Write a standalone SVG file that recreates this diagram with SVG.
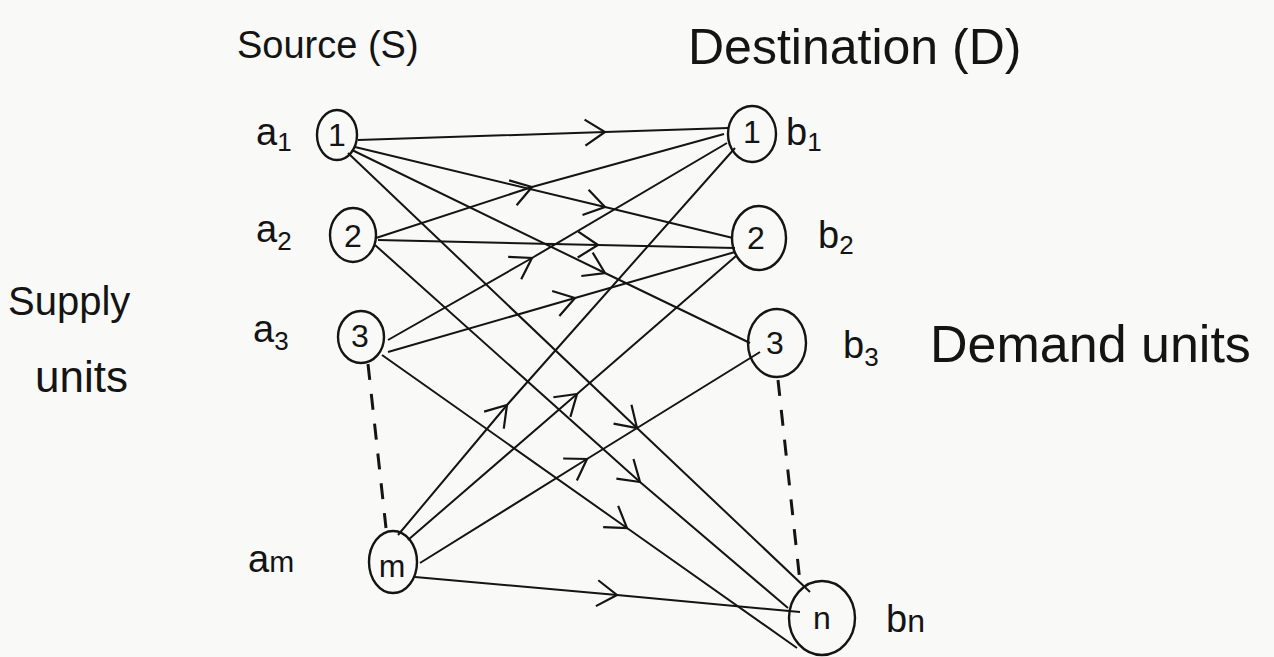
<svg xmlns="http://www.w3.org/2000/svg" width="1274" height="657" viewBox="0 0 1274 657">
<style>
.bg{fill:#f9f9f8}
.node{fill:none;stroke:#141414;stroke-width:2.4}
.nl{font-family:"Liberation Sans",Arial,sans-serif;font-size:32px;fill:#141414;text-anchor:middle;dominant-baseline:central}
.lbl{font-family:"Liberation Sans",Arial,sans-serif;fill:#141414}
.edge{fill:none;stroke:#141414;stroke-width:2;marker-mid:url(#chev)}
.dash{fill:none;stroke:#141414;stroke-width:3;stroke-dasharray:16 14}
</style>
<defs>
<marker id="chev" markerUnits="userSpaceOnUse" markerWidth="40" markerHeight="40" refX="0" refY="0" viewBox="-24 -20 30 40" orient="auto" overflow="visible">
<path d="M-20,-13 L0,0 L-20,13" fill="none" stroke="#141414" stroke-width="2.2"/>
</marker>
</defs>
<rect class="bg" x="0" y="0" width="1274" height="657"/>

<g id="titles">
<text class="lbl" x="237" y="58" font-size="38">Source (S)</text>
<text class="lbl" x="688" y="64" font-size="50">Destination (D)</text>
<text class="lbl" x="8" y="315" font-size="40">Supply</text>
<text class="lbl" x="35" y="392" font-size="44">units</text>
<text class="lbl" x="930" y="362" font-size="52">Demand units</text>
</g>

<g id="connectors">
<polyline class="edge" points="358,140 605,132 728,128"/>
<polyline class="edge" points="355,147 605,207 733,238"/>
<polyline class="edge" points="352,150 605,273 750,343"/>
<polyline class="edge" points="348,153 637,428 810,592"/>
<polyline class="edge" points="376,238 532,187 724,134"/>
<polyline class="edge" points="378,240 598,245 735,248"/>
<polyline class="edge" points="375,245 640,482 788,608"/>
<polyline class="edge" points="388,340 532,258 727,143"/>
<polyline class="edge" points="388,352 575,298 735,252"/>
<polyline class="edge" points="382,355 627,528 797,648"/>
<polyline class="edge" points="398,535 507,405 735,148"/>
<polyline class="edge" points="408,540 577,394 736,256"/>
<polyline class="edge" points="420,563 587,459 760,352"/>
<polyline class="edge" points="415,577 617,595 800,612"/>
<path class="dash" d="M368,364 L386,528"/>
<path class="dash" d="M778,380 L800,582"/>
</g>

<g id="s1"><ellipse class="node" cx="337" cy="135" rx="20" ry="25"/><text class="nl" x="337" y="135">1</text>
<text class="lbl" x="256" y="145" font-size="38">a<tspan font-size="26" dy="6">1</tspan></text></g>
<g id="s2"><ellipse class="node" cx="353" cy="235" rx="23" ry="27"/><text class="nl" x="353" y="236">2</text>
<text class="lbl" x="256" y="242" font-size="38">a<tspan font-size="26" dy="8">2</tspan></text></g>
<g id="s3"><ellipse class="node" cx="361" cy="337" rx="23" ry="26"/><text class="nl" x="360" y="336">3</text>
<text class="lbl" x="253" y="342" font-size="38">a<tspan font-size="26" dy="8">3</tspan></text></g>
<g id="sm"><ellipse class="node" cx="393" cy="562" rx="24" ry="31"/><text class="nl" x="392" y="566">m</text>
<text class="lbl" x="248" y="572" font-size="38">a<tspan font-size="30">m</tspan></text></g>

<g id="d1"><ellipse class="node" cx="752" cy="134" rx="24" ry="28"/><text class="nl" x="752" y="132">1</text>
<text class="lbl" x="786" y="145" font-size="38">b<tspan font-size="26" dy="6">1</tspan></text></g>
<g id="d2"><ellipse class="node" cx="759" cy="238" rx="27" ry="32"/><text class="nl" x="756" y="238">2</text>
<text class="lbl" x="818" y="248" font-size="38">b<tspan font-size="26" dy="6">2</tspan></text></g>
<g id="d3"><ellipse class="node" cx="777" cy="343" rx="29" ry="34"/><text class="nl" x="775" y="343">3</text>
<text class="lbl" x="843" y="358" font-size="38">b<tspan font-size="26" dy="8">3</tspan></text></g>
<g id="dn"><ellipse class="node" cx="822" cy="618" rx="33" ry="37"/><text class="nl" x="822" y="618">n</text>
<text class="lbl" x="886" y="632" font-size="38">b<tspan font-size="32">n</tspan></text></g>
</svg>
